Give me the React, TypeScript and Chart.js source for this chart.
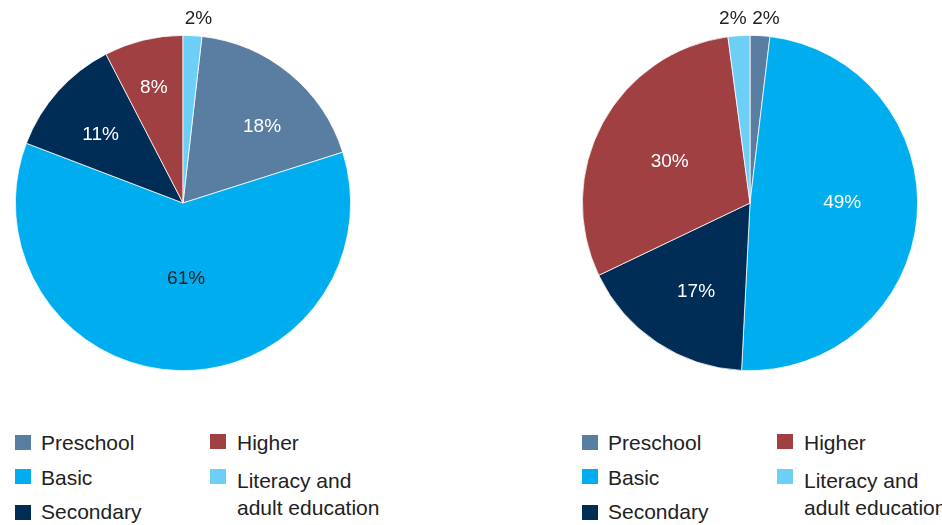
import React, { useEffect, useRef } from "react";
import { Chart, registerables } from "chart.js";

Chart.register(...registerables);

const CATEGORIES = ["Preschool", "Basic", "Secondary", "Higher", "Literacy and adult education"];
const LEFT_VALUES = [18.3, 60.7, 11.6, 7.6, 1.8];
const LEFT_LABELS = ["18%", "61%", "11%", "8%", "2%"];
const RIGHT_VALUES = [1.9, 48.9, 17.1, 30.0, 2.1];
const RIGHT_LABELS = ["2%", "49%", "17%", "30%", "2%"];

const COLORS = ["#5A7EA1", "#00AEEF", "#002D56", "#A04043", "#6DCFF6"];
const DARK = "#222222";
const FONT = "'Liberation Sans', Arial, Helvetica, sans-serif";

// label placement styling (fraction of radius, angle tweak in degrees)
const LEFT_LABEL_RADIUS = [0.655, 0.45, 0.64, 0.71, 1.1];
const LEFT_LABEL_ANGLE = [6.6, -4, -2, -0.5, 0];
const LEFT_LABEL_COLORS = ["#fff", DARK, "#fff", "#fff", DARK];
const RIGHT_LABEL_RADIUS = [1.1, 0.55, 0.62, 0.54, 1.1];
const RIGHT_LABEL_ANGLE = [0, -4.9, -2.4, -1, 0];
const RIGHT_LABEL_COLORS = [DARK, "#fff", "#fff", "#fff", DARK];

function makeLabelPlugin(labels: string[], radius: number[], angle: number[], colors: string[]) {
  return {
    id: "sliceLabels",
    afterDatasetsDraw(chart: any) {
      const ctx = chart.ctx;
      const meta = chart.getDatasetMeta(0);
      ctx.save();
      ctx.font = `19px ${FONT}`;
      ctx.textAlign = "center";
      ctx.textBaseline = "middle";
      meta.data.forEach((arc: any, i: number) => {
        const p = arc.getProps(["x", "y", "startAngle", "endAngle", "outerRadius"], true);
        const mid = (p.startAngle + p.endAngle) / 2 + (angle[i] * Math.PI) / 180;
        const r = p.outerRadius * radius[i];
        let x = p.x + Math.cos(mid) * r;
        const y = p.y + Math.sin(mid) * r;
        if (radius[i] > 1) x += x >= p.x ? 5 : -5;
        ctx.fillStyle = colors[i];
        ctx.fillText(labels[i], x, y);
      });
      ctx.restore();
    },
  };
}

function Pie(props: {
  values: number[];
  labels: string[];
  radius: number[];
  angle: number[];
  colors: string[];
  rotation: number;
  left: number;
}) {
  const ref = useRef<HTMLCanvasElement | null>(null);
  useEffect(() => {
    if (!ref.current) return;
    const chart = new Chart(ref.current, {
      type: "pie",
      data: {
        labels: CATEGORIES,
        datasets: [
          {
            data: props.values,
            backgroundColor: COLORS,
            borderColor: "#ffffff",
            borderWidth: 0.75,
          },
        ],
      },
      options: {
        animation: false,
        responsive: false,
        rotation: props.rotation,
        layout: { padding: 15 },
        plugins: { legend: { display: false }, tooltip: { enabled: false } },
      },
      plugins: [makeLabelPlugin(props.labels, props.radius, props.angle, props.colors)],
    } as any);
    return () => chart.destroy();
  }, []);
  return (
    <canvas
      ref={ref}
      width={366}
      height={406}
      style={{ position: "absolute", left: props.left, top: 0, width: 366, height: 406 }}
    />
  );
}

function Legend(props: { x0: number }) {
  const x0 = props.x0;
  const textStyle: React.CSSProperties = {
    position: "absolute",
    fontFamily: FONT,
    fontSize: 21,
    color: DARK,
    whiteSpace: "nowrap",
    lineHeight: "27px",
  };
  const sq = (x: number, y: number, c: string) => (
    <div style={{ position: "absolute", left: x, top: y, width: 16, height: 15, background: c }} />
  );
  return (
    <>
      {sq(x0, 435, COLORS[0])}
      <div style={{ ...textStyle, left: x0 + 26, top: 442 - 13.5 }}>{CATEGORIES[0]}</div>
      {sq(x0, 469, COLORS[1])}
      <div style={{ ...textStyle, left: x0 + 26, top: 477 - 13.5 }}>{CATEGORIES[1]}</div>
      {sq(x0, 505, COLORS[2])}
      <div style={{ ...textStyle, left: x0 + 26, top: 511 - 13.5 }}>{CATEGORIES[2]}</div>
      {sq(x0 + 195, 434, COLORS[3])}
      <div style={{ ...textStyle, left: x0 + 222, top: 442 - 13.5 }}>{CATEGORIES[3]}</div>
      {sq(x0 + 195, 469, COLORS[4])}
      <div style={{ ...textStyle, left: x0 + 222, top: 480 - 13.5, width: 200, whiteSpace: "normal" }}>
        Literacy and
        <br />
        adult education
      </div>
    </>
  );
}

export default function App() {
  const leftTotal = LEFT_VALUES.reduce((a, b) => a + b, 0);
  const leftRotation = (LEFT_VALUES[4] / leftTotal) * 360;
  return (
    <div
      style={{
        position: "fixed",
        left: 0,
        top: 0,
        width: 942,
        height: 525,
        overflow: "hidden",
        background: "#fff",
      }}
    >
      <Pie
        values={LEFT_VALUES}
        labels={LEFT_LABELS}
        radius={LEFT_LABEL_RADIUS}
        angle={LEFT_LABEL_ANGLE}
        colors={LEFT_LABEL_COLORS}
        rotation={leftRotation}
        left={0}
      />
      <Pie
        values={RIGHT_VALUES}
        labels={RIGHT_LABELS}
        radius={RIGHT_LABEL_RADIUS}
        angle={RIGHT_LABEL_ANGLE}
        colors={RIGHT_LABEL_COLORS}
        rotation={0}
        left={567}
      />
      <Legend x0={15} />
      <Legend x0={582} />
    </div>
  );
}
